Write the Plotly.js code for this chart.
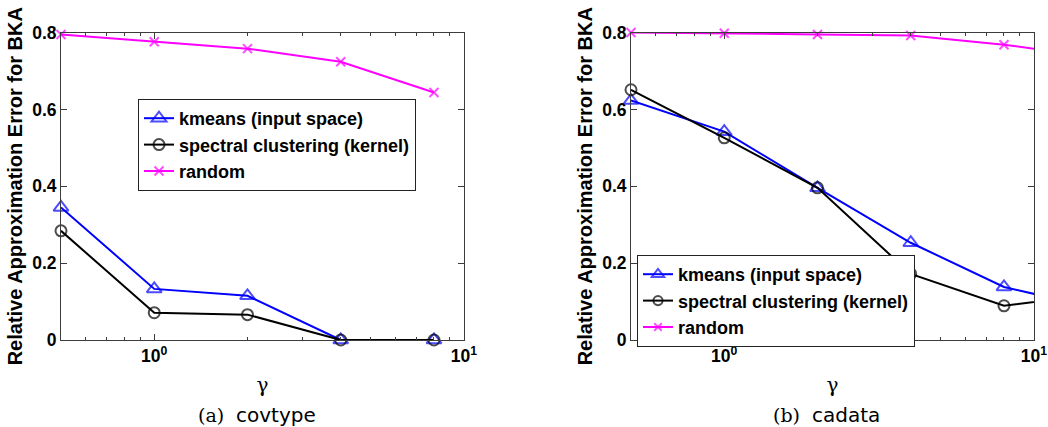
<!DOCTYPE html>
<html>
<head>
<meta charset="utf-8">
<script src="https://cdn.plot.ly/plotly-3.0.1.min.js"></script>
<style>html,body{margin:0;padding:0;background:#fff;}#chart{width:1048px;height:427px;}</style>
</head>
<body>
<div id="chart"></div>
<script>
// ---- data ----
const seriesNames = ["kmeans (input space)", "spectral clustering (kernel)", "random"];
// (a) covtype
const gammaA = [0.5, 1, 2, 4, 8];
const kmeansA = [0.345, 0.133, 0.115, 0.0, 0.0];
const spectralA = [0.284, 0.071, 0.066, 0.0, 0.0];
const randomA = [0.795, 0.776, 0.758, 0.724, 0.644];
// (b) cadata (last point lies beyond the visible axis range)
const gammaB = [0.5, 1, 2, 4, 8, 16];
const kmeansB = [0.623, 0.542, 0.396, 0.253, 0.138, 0.082];
const spectralB = [0.651, 0.526, 0.396, 0.172, 0.089, 0.12];
const randomB = [0.800, 0.798, 0.795, 0.792, 0.768, 0.737];

const xTickVals = [1, 10];
const xTickText = ["10<sup>0</sup>", "10<sup>1</sup>"];
const yTickVals = [0, 0.2, 0.4, 0.6, 0.8];
const yTickText = ["0", "0.2", "0.4", "0.6", "0.8"];
const minorVals = [0.6, 0.7, 0.8, 0.9, 2, 3, 4, 5, 6, 7, 8, 9];
const captionLabels = ["(a)", "(b)"];
const datasetNames = ["covtype", "cadata"];
const xTitle = "γ";
const yTitle = "Relative Approximation Error for BKA";

// ---- styling ----
const W = 1048, H = 427;
const colors = ["#0000ff", "#000000", "#ff00ff"];
const symbols = ["triangle-up-open", "circle-open", "x-thin"];
const sizes = [13, 11, 9];
const sans = "Liberation Sans, Arial, sans-serif";
const tickFont = {family: sans, size: 17.5, color: "#000", weight: "bold"};

function visibleSizes(xs, s) { return xs.map(x => (x <= 10 ? s : 0)); }

function makeTraces(xs, ys, xa, ya, legendName) {
  return ys.map((y, i) => ({
    x: xs, y: y, xaxis: xa, yaxis: ya, legend: legendName,
    name: seriesNames[i], type: "scatter", mode: "lines+markers",
    cliponaxis: false,
    line: {color: colors[i], width: 2},
    marker: {
      symbol: symbols[i], size: visibleSizes(xs, sizes[i]), color: colors[i],
      line: {color: colors[i], width: 2}
    }
  }));
}

const traces = [
  ...makeTraces(gammaA, [kmeansA, spectralA, randomA], "x", "y", "legend"),
  ...makeTraces(gammaB, [kmeansB, spectralB, randomB], "x2", "y2", "legend2")
];

const axisColor = "#3c3c3c";
function xAxis(domain, anchor) {
  return {
    domain: domain, anchor: anchor, type: "log",
    range: [Math.log10(0.5), 1],
    tickmode: "array", tickvals: xTickVals, ticktext: xTickText,
    ticks: "inside", ticklen: 6, tickcolor: axisColor, tickwidth: 1,
    showline: true, linecolor: axisColor, linewidth: 1, mirror: "ticks",
    showgrid: false, zeroline: false,
    minor: {tickmode: "array", tickvals: minorVals, ticks: "inside", ticklen: 3, tickcolor: axisColor, showgrid: false},
    tickfont: tickFont,
    title: {text: xTitle, font: {family: "DejaVu Serif, serif", size: 20, color: "#000"}, standoff: 12},
    automargin: false, fixedrange: true
  };
}
function yAxis(anchor) {
  const top = 1 - 32.5 / H, bottom = 1 - 340 / H;
  return {
    domain: [bottom, top], anchor: anchor,
    range: [0, 0.8],
    tickmode: "array", tickvals: yTickVals, ticktext: yTickText,
    ticks: "inside", ticklen: 6, tickcolor: axisColor, tickwidth: 1,
    showline: true, linecolor: axisColor, linewidth: 1, mirror: "ticks",
    showgrid: false, zeroline: false,
    tickfont: tickFont,
    title: {text: yTitle, font: {family: sans, size: 20, color: "#000", weight: "bold"}, standoff: 4},
    automargin: false, fixedrange: true
  };
}

function legendAt(xpx, ypx) {
  return {
    x: xpx / W, y: 1 - ypx / H, xanchor: "left", yanchor: "top",
    bgcolor: "#ffffff", bordercolor: "#222", borderwidth: 1,
    font: {family: sans, size: 18, color: "#000", weight: "bold"},
    tracegroupgap: 0, itemwidth: 30
  };
}

const capY = 1 - 415 / H;
const labelX = [196, 771], nameX = [234, 810];
const annotations = [];
captionLabels.forEach((c, i) => {
  annotations.push({
    xref: "paper", yref: "paper", x: labelX[i] / W, y: capY,
    xanchor: "left", yanchor: "middle", showarrow: false,
    text: c, font: {family: "DejaVu Serif, serif", size: 19, color: "#000"}
  });
  annotations.push({
    xref: "paper", yref: "paper", x: nameX[i] / W, y: capY,
    xanchor: "left", yanchor: "middle", showarrow: false,
    text: datasetNames[i], font: {family: "DejaVu Sans, sans-serif", size: 20, color: "#000"}
  });
});

const layout = {
  width: W, height: H,
  margin: {l: 0, r: 0, t: 0, b: 0},
  paper_bgcolor: "#fff", plot_bgcolor: "#fff",
  showlegend: true,
  xaxis: xAxis([61 / W, 464 / W], "y"),
  yaxis: yAxis("x"),
  xaxis2: xAxis([631 / W, 1034 / W], "y2"),
  yaxis2: yAxis("x2"),
  legend: legendAt(138, 99),
  legend2: legendAt(637, 255),
  annotations: annotations
};

Plotly.newPlot("chart", traces, layout, {staticPlot: true, displayModeBar: false});
</script>
</body>
</html>
